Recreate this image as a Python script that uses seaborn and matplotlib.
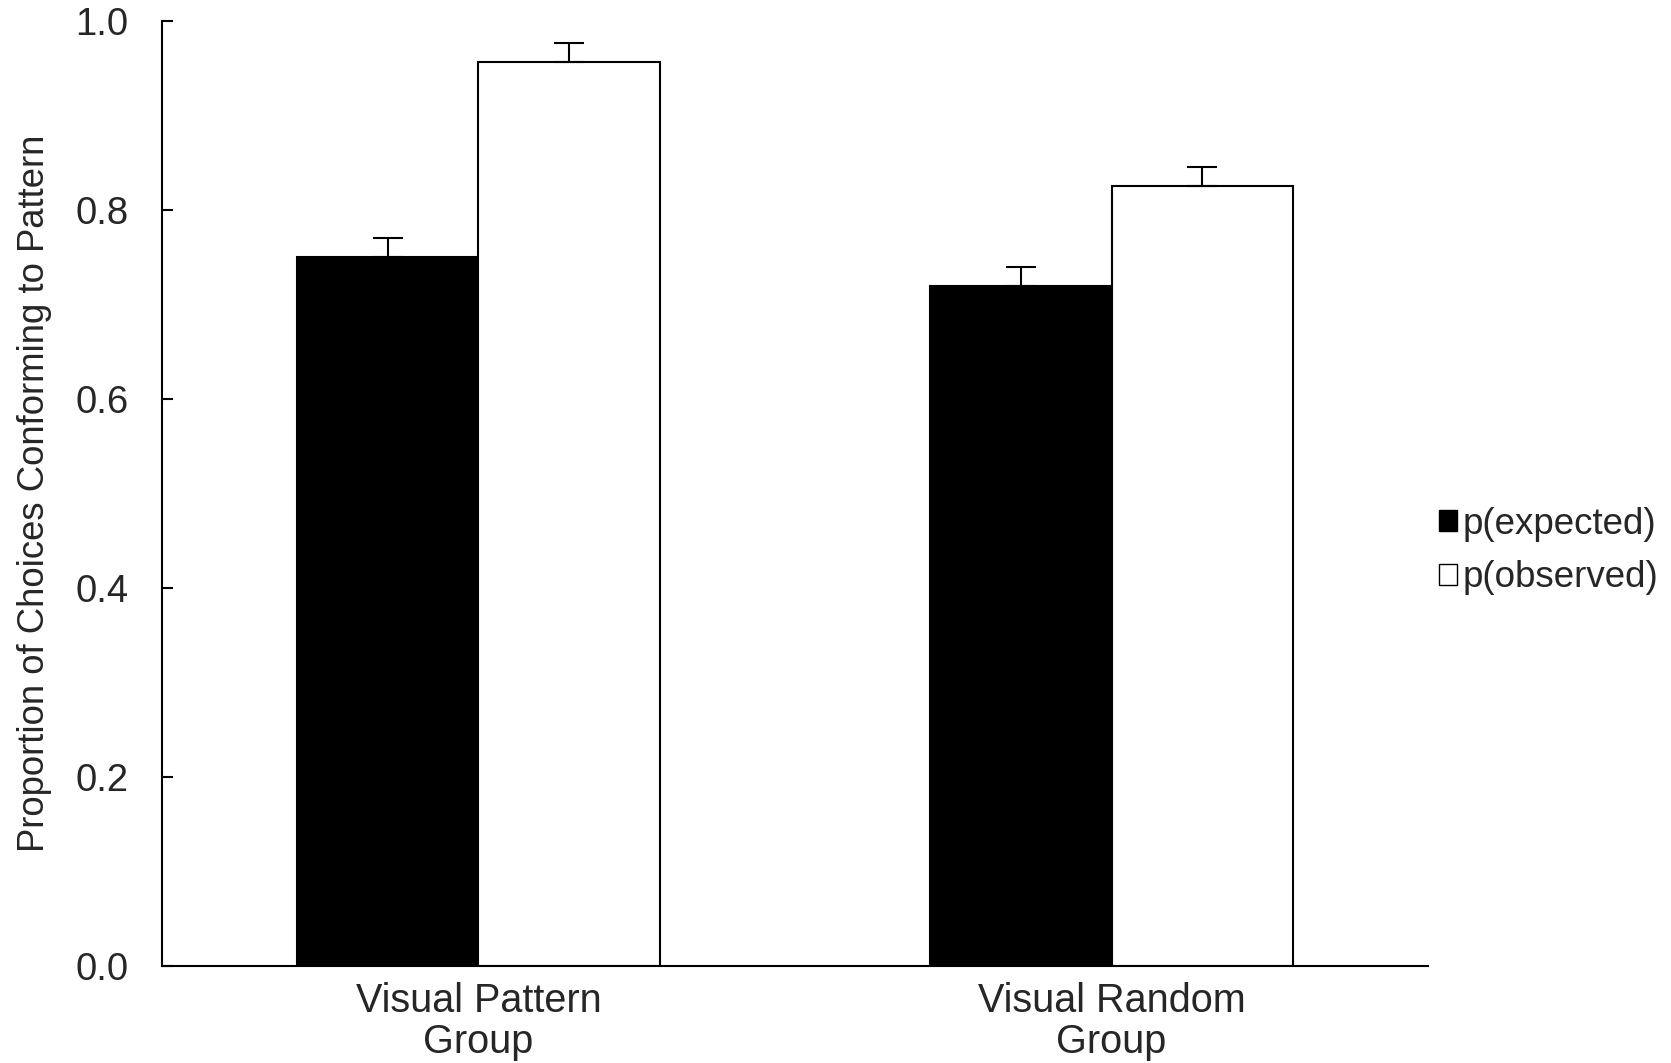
import matplotlib
matplotlib.use("Agg")
import matplotlib.pyplot as plt
from matplotlib.patches import Patch
import pandas as pd
import seaborn as sns

# Group means and standard errors
groups = ["Visual Pattern\nGroup", "Visual Random\nGroup"]
measures = ["p(expected)", "p(observed)"]
expected_means = [0.75, 0.72]
observed_means = [0.957, 0.825]
expected_sem = [0.02, 0.02]
observed_sem = [0.02, 0.02]
y_ticks = [0.0, 0.2, 0.4, 0.6, 0.8, 1.0]

df = pd.DataFrame({
    "group": groups * 2,
    "measure": [measures[0]] * 2 + [measures[1]] * 2,
    "value": expected_means + observed_means,
    "sem": expected_sem + observed_sem,
})

sns.set_theme(style="white")
plt.rcParams["font.family"] = ["Liberation Sans", "DejaVu Sans"]

fig = plt.figure(figsize=(16.71, 10.63), dpi=100)
ax = fig.add_axes([0.0969, 0.0917, 0.7577, 0.8885])

sns.barplot(data=df, x="group", y="value", hue="measure",
            hue_order=measures, order=groups,
            palette={measures[0]: "black", measures[1]: "white"},
            edgecolor="black", linewidth=1.5, width=0.572,
            errorbar=None, legend=False, ax=ax)

# Upward-only standard error bars on each bar
bars = ax.patches[:4]
for bar, err in zip(bars, df["sem"]):
    cx = bar.get_x() + bar.get_width() / 2
    top = bar.get_height()
    ax.errorbar(cx, top, yerr=[[0], [err]], fmt="none", ecolor="black",
                elinewidth=1.5, capsize=10.8, capthick=1.5, zorder=3)

ax.set_xlim(-0.5, 1.5)
ax.set_ylim(0, 1.0)
ax.set_yticks(y_ticks)
ax.set_yticklabels([f"{t:.1f}" for t in y_ticks])

for side in ("top", "right"):
    ax.spines[side].set_visible(False)
for side in ("left", "bottom"):
    ax.spines[side].set_linewidth(1.5)
    ax.spines[side].set_color("black")

ax.tick_params(axis="y", direction="in", length=8, width=1.5, color="black",
               labelsize=27.5, pad=24, left=True)
ax.tick_params(axis="x", length=0, labelsize=28.5, pad=12)
for lab in ax.get_xticklabels():
    lab.set_linespacing(1.08)

ax.set_xlabel("")
ax.set_ylabel("Proportion of Choices Conforming to Pattern", fontsize=26.3)
ax.yaxis.set_label_coords(-0.087, 0.5)

handles = [Patch(facecolor="black", edgecolor="black", linewidth=1.0),
           Patch(facecolor="white", edgecolor="black", linewidth=1.0)]
fig.legend(handles, measures, loc="center left",
           bbox_to_anchor=(0.861, 0.4817), frameon=False, fontsize=26.5,
           handlelength=0.5, handleheight=0.5, handletextpad=0.16,
           labelspacing=0.5, borderpad=0, borderaxespad=0)

fig.savefig("out.png", dpi=100, facecolor="white")
